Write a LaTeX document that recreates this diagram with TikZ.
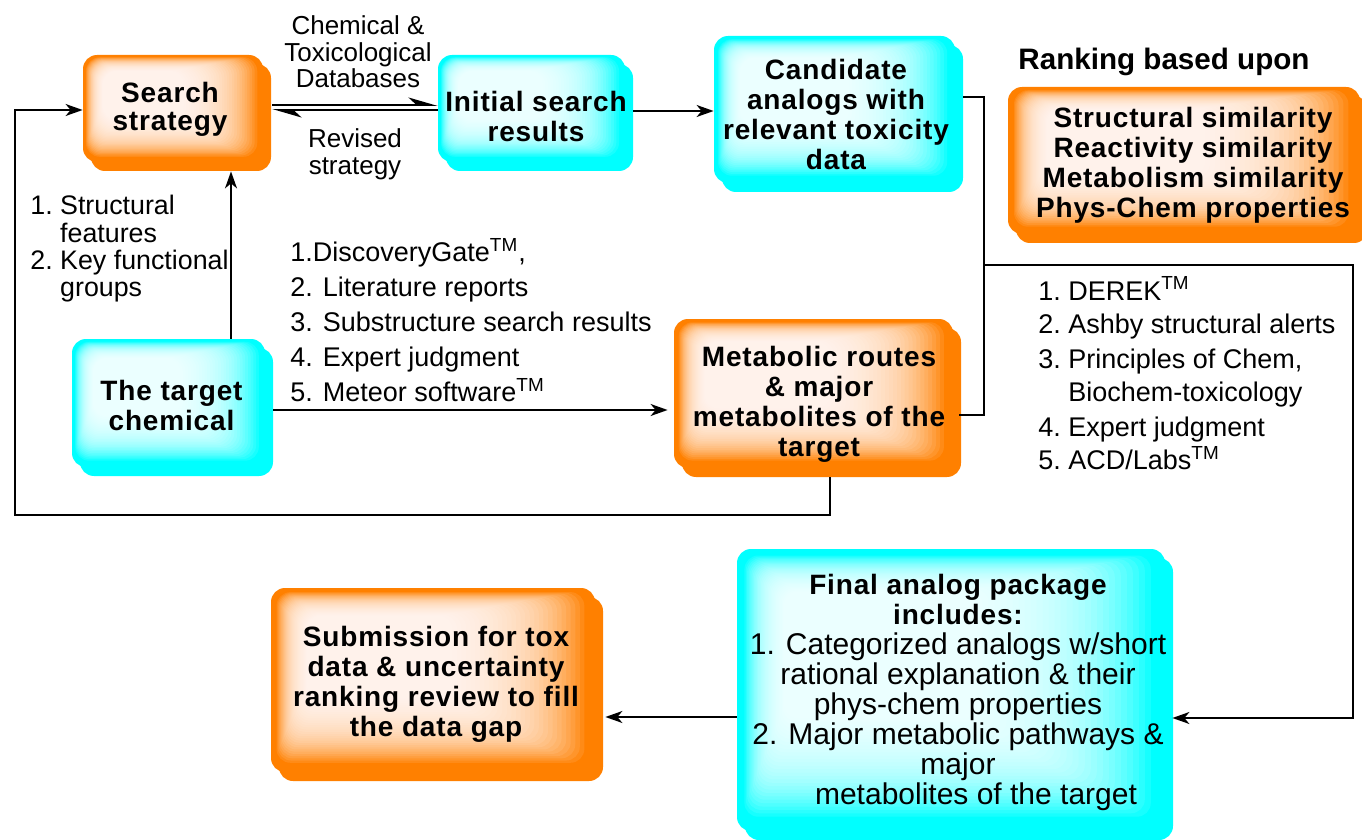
\documentclass[tikz,border=0pt]{standalone}
\usepackage{fontspec}
\setmainfont{Liberation Sans}
\newfontfamily\boxfont[LetterSpace=3]{Liberation Sans}
\usetikzlibrary{arrows.meta,calc,fit,shadows}
\definecolor{myorange}{RGB}{255,128,0}
\definecolor{mycyan}{RGB}{0,255,255}
\tikzset{
  obox/.style={rounded corners=7pt, fill=myorange, inner sep=0pt,
    general shadow={fill=myorange, shadow xshift=4pt, shadow yshift=-4.5pt}},
  cbox/.style={rounded corners=7pt, fill=mycyan, inner sep=0pt,
    general shadow={fill=mycyan, shadow xshift=4pt, shadow yshift=-4.5pt}},
  bt/.style={inner sep=0pt, align=center, font=\boxfont\bfseries\fontsize{14}{15}\selectfont},
  lab/.style={inner sep=0pt, font=\fontsize{13.5}{17.5}\selectfont},
  arr/.style={-{Stealth[length=8.5pt,width=6pt,inset=2.5pt]}, line width=0.9pt},
  harp/.style={-{Stealth[harpoon,length=13pt,width=7.5pt,inset=4pt]}, line width=0.9pt},
  ln/.style={line width=0.9pt},
  glowlayer/.style={fill=white, opacity=0.09, rounded corners=7pt}
}
\newcommand\boxglow[1]{%
  \foreach \k in {1,...,30}{%
    \path[glowlayer] let \p1=(#1.north west), \p2=(#1.south east) in
      ({\x1+(0.015+0.0032*\k)*(\x2-\x1)}, {\y1+(0.02+0.0044*\k)*(\y2-\y1)})
      rectangle
      ({\x2-(0.02+0.014*\k)*(\x2-\x1)}, {\y2-(0.04+0.012*\k)*(\y2-\y1)});
  }%
}
\begin{document}
\begin{tikzpicture}[x=0.5pt,y=-0.5pt]
\useasboundingbox (0,0) rectangle (1362,840);
% boxes
\node[obox, fit={(83,55)(263,162)}] (ss) {};
\node[cbox, fit={(438,55)(625,162)}] (isr) {};
\node[cbox, fit={(714,36)(955,183)}] (cand) {};
\node[obox, fit={(1008,87)(1360,234)}] (rank) {};
\node[cbox, fit={(72,339)(265,467)}] (tc) {};
\node[obox, fit={(674,319)(953,468)}] (mr) {};
\node[cbox, fit={(737,549)(1165,831)}] (fin) {};
\node[obox, fit={(271,588)(595,772)}] (sub) {};
\boxglow{ss}\boxglow{isr}\boxglow{cand}\boxglow{rank}
\boxglow{tc}\boxglow{mr}\boxglow{fin}\boxglow{sub}
% box texts
\node[bt, font=\boxfont\bfseries\fontsize{14}{14}\selectfont] (ss-t) at (170,109.5) {Search\\strategy};
\node[bt] (isr-t) at (536,116) {Initial search\\results};
\node[bt] (cand-t) at (836,114) {Candidate\\analogs with\\relevant toxicity\\data};
\node[bt] (rank-t) at (1193,165.5) {Structural similarity\\Reactivity similarity\\Metabolism similarity\\Phys-Chem properties};
\node[bt] (tc-t) at (171.5,405) {The target\\chemical};
\node[bt] (mr-t) at (819,404.5) {Metabolic routes\\\&{} major\\metabolites of the\\target};
\node[bt] (sub-t) at (436,684) {Submission for tox\\data \& uncertainty\\ranking review to fill\\the data gap};
\node[inner sep=0pt, align=center, font=\fontsize{15}{15}\selectfont] (fin-t) at (958,692)
  {{\boxfont\bfseries\fontsize{14}{15}\selectfont Final analog package}\\
   {\boxfont\bfseries\fontsize{14}{15}\selectfont includes:}\\
   1. Categorized analogs w/short\\
   rational explanation \& their\\
   phys-chem properties\\
   2. Major metabolic pathways \&\\
   major\\
   \hspace*{1.2em}metabolites of the target};
% free labels
\node[inner sep=0pt, font=\bfseries\fontsize{14.8}{15}\selectfont] (rank-h) at (1164,62) {Ranking based upon};
\node[lab, anchor=base, font=\fontsize{13}{13}\selectfont] (db) at (358,34.4)
  {\begin{tabular}[t]{@{}c@{}}Chemical \&\\Toxicological\\Databases\end{tabular}};
\node[lab, anchor=base, font=\fontsize{13}{13.5}\selectfont] (rev) at (355,147.4)
  {\begin{tabular}[t]{@{}c@{}}Revised\\strategy\end{tabular}};
\node[lab, anchor=base west, font=\fontsize{13.4}{13.5}\selectfont] (feat) at (30,214.6)
  {\begin{tabular}[t]{@{}l@{\ }l@{}}1.&Structural\\&features\\2.&Key functional\\&groups\end{tabular}};
\node[lab, anchor=base west] (tools) at (290,261.7)
  {\begin{tabular}[t]{@{}l@{}}1.DiscoveryGate\textsuperscript{TM},\\2. Literature reports\\3. Substructure search results\\4. Expert judgment\\5. Meteor software\textsuperscript{TM}\end{tabular}};
\node[lab, anchor=base west, font=\fontsize{13.5}{17}\selectfont] (tools2) at (1038,300)
  {\begin{tabular}[t]{@{}l@{\ }l@{}}1.&DEREK\textsuperscript{TM}\\2.&Ashby structural alerts\\3.&Principles of Chem,\\&Biochem-toxicology\\4.&Expert judgment\\5.&ACD/Labs\textsuperscript{TM}\end{tabular}};
% connectors
\draw[harp] ($(ss.east)+(9,-3.5)$) -- ($(isr.west)+(0,-3.5)$);
\draw[harp] ($(isr.west)+(0,1.5)$) -- ($(ss.east)+(9,1.5)$);
\draw[arr] ($(isr.east)+(8,2.5)$) -- ($(cand.west |- isr.east)+(0,2.5)$);
\coordinate (vx) at (231,0);
\draw[arr] (tc.north -| vx) -- ($(ss.south -| vx)+(0,9)$);
\coordinate (hy) at (0,410);
\draw[arr] ($(tc.east |- hy)+(8,0)$) -- ($(mr.west |- hy)+(-6,0)$);
\coordinate (lpx) at (830,0);
\coordinate (lb) at (15,515);
\draw[arr] ($(mr.south -| lpx)+(0,9)$) |- (lb) |- ($(ss.west)+(0,1.5)$);
\coordinate (rx) at (984,0);
\coordinate (ry) at (0,97);
\coordinate (rt) at (1353,265);
\draw[ln] ($(mr.east)+(6,21.5)$) -| (rx |- ry) -- ($(cand.east |- ry)+(8,0)$);
\draw[arr] (rx |- rt) -- (rt) |- ($(fin.east)+(7,28)$);
\draw[arr] ($(fin.west)+(0,27)$) -- ($(sub.east |- fin.west)+(10,27)$);
\end{tikzpicture}
\end{document}
